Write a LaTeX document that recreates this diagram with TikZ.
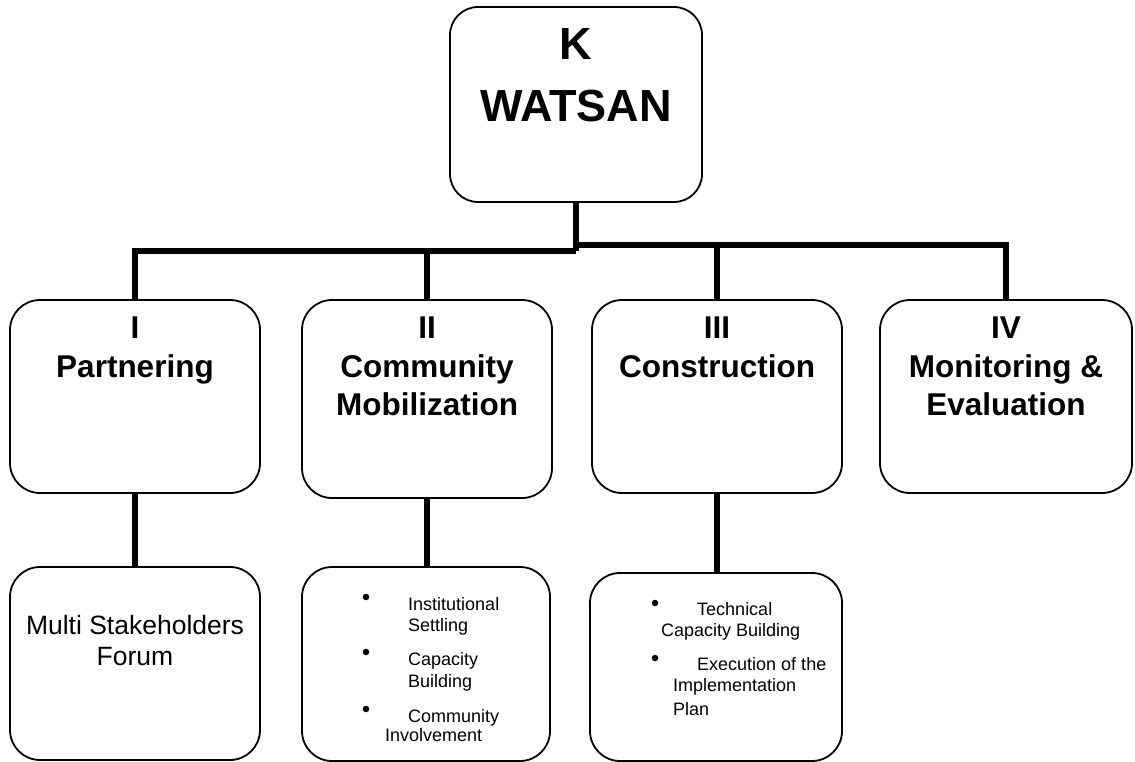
\documentclass[tikz,border=0pt]{standalone}
\usepackage{fontspec}
\setmainfont{Liberation Sans}
\tikzset{
  box/.style={draw, line width=1.8pt, rounded corners=30pt, inner sep=0pt, fill=white},
  conn/.style={line width=5.5pt},
  ttl/.style={font=\fontsize{31.5}{39}\selectfont\bfseries, anchor=base, inner sep=0pt},
  big/.style={font=\fontsize{45}{57}\selectfont\bfseries, anchor=base, inner sep=0pt},
  mid/.style={font=\fontsize{26.5}{31}\selectfont, anchor=base, inner sep=0pt},
  sml/.style={font=\fontsize{18}{21}\selectfont, anchor=base west, inner sep=0pt},
  bul/.style={circle, fill=black, inner sep=0pt, minimum size=6.5pt},
}
\begin{document}
\begin{tikzpicture}[x=1pt,y=-1pt]
\useasboundingbox[fill=white] (0,0) rectangle (1135,762);

% boxes
\node[box, minimum width=252pt, minimum height=195pt, rounded corners=28pt] (top) at (576,104.5) {};
\node[box, minimum width=250pt, minimum height=193pt] (bI)   at (135,396.5) {};
\node[box, minimum width=250pt, minimum height=198pt] (bII)  at (427,399) {};
\node[box, minimum width=250pt, minimum height=193pt] (bIII) at (717,396.5) {};
\node[box, minimum width=252pt, minimum height=193pt] (bIV)  at (1006,396.5) {};
\node[box, minimum width=250pt, minimum height=193pt] (sI)   at (135,663.5) {};
\node[box, minimum width=248pt, minimum height=194pt] (sII)  at (426,664) {};
\node[box, minimum width=252pt, minimum height=188pt] (sIII) at (716,667) {};

% connectors
\coordinate (jl) at (576,251);
\coordinate (jr) at (576,245);
\draw[conn] (top.south) -- (jl);
\draw[conn] (bI.north) |- (jl);
\draw[conn] (bII.north) -- (bII.north |- jl);
\draw[conn] (bIV.north) |- (jr);
\draw[conn] (bIII.north) -- (bIII.north |- jr);
\draw[conn] (bI.south) -- (bI.south |- sI.north);
\draw[conn] (bII.south) -- (bII.south |- sII.north);
\draw[conn] (bIII.south) -- (bIII.south |- sIII.north);

% top texts
\node[big] (tK) at (576,60) {K};
\node[big] (tW) at (576,122) {WATSAN};

% level 2 texts
\node[ttl] (t1a) at (135,338) {I};
\node[ttl] (t1b) at (135,377) {Partnering};
\node[ttl] (t2a) at (427,338) {II};
\node[ttl] (t2b) at (427,377) {Community};
\node[ttl] (t2c) at (427,415) {Mobilization};
\node[ttl] (t3a) at (717,338) {III};
\node[ttl] (t3b) at (717,377) {Construction};
\node[ttl] (t4a) at (1006,338) {IV};
\node[ttl] (t4b) at (1006,377) {Monitoring \&};
\node[ttl] (t4c) at (1006,415) {Evaluation};

% bottom box I
\node[mid] (m1) at (135,634) {Multi Stakeholders};
\node[mid] (m2) at (135,665) {Forum};

% bottom box II
\node[bul] (b21) at (366,597) {};
\node[sml] (l21) at (408,610) {Institutional};
\node[sml] (l22) at (408,631) {Settling};
\node[bul] (b22) at (366,652) {};
\node[sml] (l23) at (408,665) {Capacity};
\node[sml] (l24) at (408,687) {Building};
\node[bul] (b23) at (366,709) {};
\node[sml] (l25) at (408,722) {Community};
\node[sml] (l26) at (385,741) {Involvement};

% bottom box III
\node[bul] (b31) at (655,603) {};
\node[sml] (l31) at (697,615) {Technical};
\node[sml] (l32) at (661,636) {Capacity Building};
\node[bul] (b32) at (655,658) {};
\node[sml] (l33) at (697,670) {Execution of the};
\node[sml] (l34) at (673,691) {Implementation};
\node[sml] (l35) at (673,715) {Plan};
\end{tikzpicture}
\end{document}
